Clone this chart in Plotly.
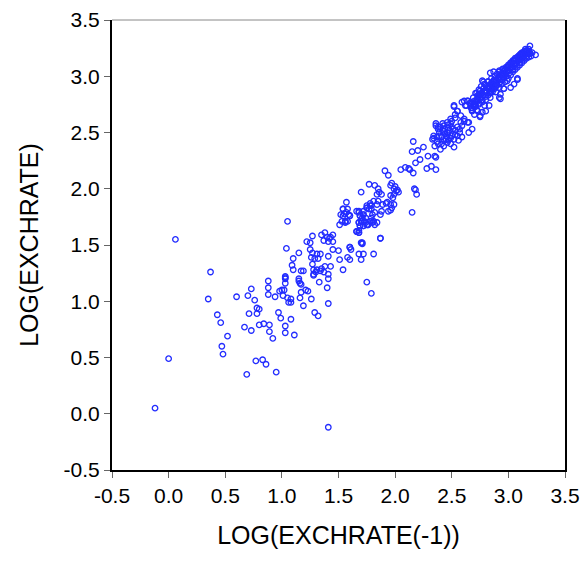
import plotly.graph_objects as go

# LOG(EXCHRATE(-1)) values (x) and LOG(EXCHRATE) values (y)
lag_sparse = [-0.12, 0.00, 0.06, 0.35, 0.37, 0.43, 0.46, 0.47, 0.48, 0.52, 0.60, 0.67, 0.69, 0.70, 0.71,
              0.73, 0.73, 0.76, 0.77, 0.78, 0.80, 0.78, 0.80, 0.83, 0.84, 0.86, 0.88, 0.88, 0.88, 0.89,
              0.89, 0.92, 0.94, 0.95, 0.97, 0.98, 0.99, 1.00, 1.01, 1.02, 1.03, 1.03, 1.03, 1.03, 1.03,
              1.03, 1.04, 1.05, 1.05, 1.06, 1.08, 1.08, 1.08, 1.09, 1.10, 1.10, 1.11, 1.15, 1.15, 1.15,
              1.16, 1.16, 1.17, 1.17, 1.17, 1.19, 1.19, 1.21, 1.22, 1.23, 1.25, 1.25, 1.26, 1.26, 1.27,
              1.27, 1.27, 1.28, 1.28, 1.28, 1.29, 1.29, 1.30, 1.31, 1.31, 1.32, 1.32, 1.33, 1.34, 1.34,
              1.35, 1.35, 1.37, 1.37, 1.38, 1.38, 1.40, 1.40, 1.41, 1.41, 1.41, 1.41, 1.41, 1.41, 1.42,
              1.43, 1.43, 1.45, 1.45, 1.45, 1.50, 1.51]
cur_sparse = [0.05, 0.49, 1.55, 1.02, 1.26, 0.88, 0.81, 0.60, 0.53, 0.69, 1.04, 0.77, 0.35, 1.05, 0.89,
              1.11, 0.74, 1.01, 0.47, 0.94, 0.93, 0.89, 0.79, 0.48, 0.80, 0.44, 1.18, 1.12, 1.06, 0.79,
              0.73, 0.67, 1.04, 0.37, 0.90, 1.09, 0.85, 1.10, 1.05, 1.10, 1.22, 1.20, 1.16, 0.78, 0.72,
              1.21, 1.47, 1.71, 1.03, 0.99, 1.02, 0.99, 0.84, 1.32, 1.38, 1.28, 0.70, 1.43, 1.20, 1.18,
              1.16, 1.03, 1.27, 1.15, 1.08, 1.27, 0.96, 1.10, 1.53, 1.09, 1.52, 1.46, 1.02, 1.39, 1.58,
              1.43, 1.33, 1.28, 1.23, 1.24, 1.38, 0.90, 1.26, 1.42, 1.28, 1.38, 0.87, 1.17, 1.42, 1.27,
              1.29, 1.59, 1.26, 1.54, 1.61, 1.31, 1.57, 1.12, 1.53, 1.40, 1.24, 1.20, 0.98, -0.12, 1.56,
              1.57, 1.31, 1.53, 1.59, 1.46, 1.45, 1.37]

lag_mid = [1.52, 1.51, 1.53, 1.54, 1.54, 1.55, 1.56, 1.56, 1.57, 1.58, 1.58, 1.58, 1.59, 1.60, 1.60,
           1.60, 1.61, 1.66, 1.66, 1.68, 1.68, 1.68, 1.68, 1.68, 1.69, 1.69, 1.70, 1.70, 1.70, 1.70,
           1.71, 1.71, 1.72, 1.72, 1.72, 1.72, 1.73, 1.74, 1.75, 1.75, 1.75, 1.75, 1.76, 1.77, 1.77,
           1.78, 1.78, 1.78, 1.79, 1.79, 1.79, 1.79, 1.80, 1.80, 1.81, 1.81, 1.81, 1.82, 1.82, 1.82,
           1.84, 1.84, 1.84, 1.85, 1.85, 1.86, 1.87, 1.87, 1.88, 1.88, 1.89, 1.91, 1.92, 1.93, 1.94,
           1.94, 1.96, 1.96, 1.96, 1.96, 1.97, 1.97, 1.98, 1.99, 1.99, 1.99, 2.00, 2.02, 2.03, 2.01,
           1.54, 1.57, 1.60, 1.56, 1.54, 1.68, 1.69, 1.71, 1.72, 1.74, 1.69, 1.75, 1.78, 1.81, 1.76,
           1.72, 1.68, 1.66, 1.68, 1.87, 1.71, 1.60]
cur_mid = [1.77, 1.68, 1.71, 1.28, 1.82, 1.78, 1.70, 1.71, 1.88, 1.82, 1.39, 1.71, 1.77, 1.37, 1.76,
           1.48, 1.46, 1.62, 1.80, 1.61, 1.63, 1.79, 1.42, 1.70, 1.67, 1.76, 1.37, 1.97, 1.71, 1.52,
           1.51, 1.74, 1.80, 1.42, 1.77, 1.67, 1.71, 1.70, 1.17, 1.85, 1.68, 1.83, 1.68, 1.82, 2.04,
           1.85, 1.87, 1.71, 1.74, 1.85, 1.07, 1.82, 1.77, 1.70, 1.71, 1.89, 1.42, 2.03, 1.79, 1.68,
           1.95, 1.86, 1.70, 2.00, 1.89, 1.97, 1.56, 1.77, 1.95, 1.80, 1.86, 2.16, 1.87, 1.88, 1.80,
           2.12, 1.86, 1.81, 2.03, 1.94, 2.05, 1.83, 1.92, 1.86, 1.95, 2.00, 2.02, 1.99, 1.97, 1.98,
           1.82, 1.79, 1.76, 1.71, 1.76, 1.80, 1.76, 1.71, 1.77, 1.74, 1.67, 1.83, 1.71, 1.71, 1.68,
           1.67, 1.70, 1.62, 1.61, 1.56, 1.52, 1.48]

lag_upper = [2.05, 2.09, 2.12, 2.13, 2.15, 2.15, 2.16, 2.16, 2.17, 2.18, 2.18, 2.19, 2.20, 2.22, 2.25,
             2.28, 2.29, 2.32, 2.33, 2.34, 2.36, 2.36, 2.34, 2.36, 2.38, 2.39, 2.40, 2.42, 2.46, 2.47,
             2.49, 2.50, 2.47, 2.49, 2.52, 2.43, 2.38, 2.35, 2.40, 2.35, 2.46, 2.52, 2.55, 2.57, 2.59,
             2.56, 2.59, 2.58, 2.53, 2.55, 2.52, 2.64, 2.65, 2.68, 2.61, 2.62, 2.59, 2.64, 2.67, 2.68,
             2.70, 2.73, 2.75, 2.71, 2.73, 2.74, 2.75, 2.79, 2.77, 2.81, 2.84, 2.83, 2.79, 2.80, 2.86,
             2.87, 2.90, 2.93, 2.96, 2.99, 2.93, 2.89, 3.02, 3.05, 3.08, 2.61, 2.64, 2.63, 2.52, 2.55,
             2.53, 2.58, 2.61, 2.65, 2.49, 2.46, 2.43, 2.36, 2.38, 2.41, 2.44, 2.45, 2.48, 2.51, 2.53,
             2.43, 2.50, 2.37, 2.44, 2.37, 2.39, 2.41, 2.43, 2.45, 2.47, 2.49, 2.51, 2.53, 2.55, 2.57,
             2.42, 2.46, 2.50]
cur_upper = [2.17, 2.19, 2.18, 2.17, 1.79, 2.33, 2.42, 2.14, 2.00, 2.23, 1.99, 1.95, 2.34, 2.26, 2.37,
             2.18, 2.29, 2.20, 2.44, 2.45, 2.17, 2.28, 2.47, 2.56, 2.53, 2.50, 2.55, 2.52, 2.50, 2.57,
             2.58, 2.55, 2.43, 2.40, 2.37, 2.38, 2.40, 2.38, 2.35, 2.29, 2.46, 2.44, 2.47, 2.53, 2.46,
             2.43, 2.56, 2.59, 2.63, 2.69, 2.73, 2.59, 2.50, 2.53, 2.62, 2.74, 2.77, 2.78, 2.72, 2.69,
             2.66, 2.69, 2.64, 2.74, 2.80, 2.84, 2.87, 2.93, 2.96, 2.86, 2.81, 2.74, 2.74, 2.69, 2.90,
             2.96, 2.92, 2.95, 2.89, 2.96, 2.84, 2.86, 2.90, 2.93, 2.97, 2.78, 2.78, 2.74, 2.74, 2.69,
             2.66, 2.65, 2.60, 2.59, 2.62, 2.59, 2.56, 2.58, 2.55, 2.46, 2.49, 2.44, 2.52, 2.49, 2.52,
             2.43, 2.47, 2.46, 2.53, 2.42, 2.47, 2.40, 2.51, 2.47, 2.54, 2.45, 2.53, 2.48, 2.55, 2.50,
             2.58, 2.41, 2.60]

lag_top = [2.66, 2.68, 2.69, 2.70, 2.71, 2.72, 2.72, 2.73, 2.74, 2.74, 2.75, 2.76, 2.76, 2.77, 2.78,
           2.78, 2.79, 2.80, 2.80, 2.81, 2.82, 2.82, 2.83, 2.84, 2.84, 2.85, 2.86, 2.86, 2.87, 2.88,
           2.88, 2.89, 2.90, 2.90, 2.91, 2.92, 2.92, 2.93, 2.94, 2.94, 2.95, 2.96, 2.96, 2.97, 2.98,
           2.98, 2.99, 3.00, 3.00, 3.01, 3.02, 3.02, 3.03, 3.04, 3.04, 3.05, 3.06, 3.06, 3.07, 3.08,
           3.08, 3.09, 3.10, 3.10, 3.11, 3.12, 3.12, 3.13, 3.14, 3.14, 3.15, 3.16, 3.16, 3.17, 3.18,
           3.18, 3.19, 3.20, 3.21, 3.15, 3.13, 3.11, 3.09, 3.07, 3.05, 3.03, 3.01, 2.99, 2.97, 2.95,
           2.93, 2.91, 2.89, 2.87, 2.85, 2.83, 2.81, 2.79, 2.77, 2.75, 2.73, 2.71, 2.69, 3.19, 3.24,
           3.08, 2.84, 2.87, 2.92, 2.95, 2.78, 2.82, 2.72, 2.96, 2.92, 2.93, 2.84, 2.75, 2.77]
cur_top = [2.76, 2.72, 2.81, 2.75, 2.85, 2.79, 2.70, 2.83, 2.88, 2.75, 2.81, 2.91, 2.85, 2.77, 2.89,
           2.83, 2.93, 2.86, 2.79, 2.90, 2.95, 2.83, 2.89, 2.93, 2.85, 2.98, 2.91, 2.86, 2.95, 3.00,
           2.89, 2.96, 2.93, 3.02, 2.98, 2.90, 3.04, 2.97, 3.01, 2.93, 3.06, 2.99, 3.03, 2.95, 3.08,
           3.02, 3.05, 2.98, 3.10, 3.06, 3.01, 3.12, 3.08, 3.04, 3.14, 3.10, 3.06, 3.16, 3.12, 3.08,
           3.17, 3.14, 3.10, 3.19, 3.15, 3.12, 3.21, 3.17, 3.14, 3.22, 3.19, 3.16, 3.23, 3.20, 3.17,
           3.22, 3.20, 3.18, 3.21, 3.24, 3.21, 3.20, 3.18, 3.16, 3.14, 3.12, 3.10, 3.08, 3.06, 3.03,
           3.01, 2.99, 2.97, 2.96, 2.93, 2.91, 2.87, 2.86, 2.83, 2.84, 2.79, 2.77, 2.75, 3.27, 3.19,
           2.98, 3.03, 3.04, 3.05, 3.065, 2.95, 2.955, 2.85, 2.89, 2.81, 2.80, 2.86, 2.65, 2.68]

lag_core = [2.67, 2.70, 2.73, 2.76, 2.79, 2.82, 2.85, 2.88, 2.91, 2.94, 2.97, 3.00, 3.03, 3.06, 3.09,
            3.12, 3.15, 3.18, 2.68, 2.71, 2.74, 2.77, 2.80, 2.83, 2.86, 2.89, 2.92, 2.95, 2.98, 3.01,
            3.04, 3.07, 3.10, 3.13, 3.16, 3.19, 2.69, 2.72, 2.75, 2.78, 2.81, 2.84, 2.87, 2.90, 2.93,
            2.96, 2.99, 3.02, 3.05, 3.08, 3.11, 3.14, 3.17]
cur_core = [2.76, 2.78, 2.82, 2.84, 2.87, 2.90, 2.93, 2.96, 2.99, 3.02, 3.05, 3.08, 3.11, 3.14, 3.16,
            3.19, 3.22, 3.24, 2.70, 2.73, 2.76, 2.79, 2.82, 2.85, 2.88, 2.91, 2.94, 2.97, 3.00, 3.03,
            3.06, 3.09, 3.12, 3.15, 3.18, 3.21, 2.74, 2.77, 2.80, 2.83, 2.86, 2.89, 2.92, 2.95, 2.98,
            3.01, 3.04, 3.07, 3.10, 3.13, 3.16, 3.19, 3.22]

x_vals = lag_sparse + lag_mid + lag_upper + lag_top + lag_core
y_vals = cur_sparse + cur_mid + cur_upper + cur_top + cur_core

tick_vals = [-0.5, 0.0, 0.5, 1.0, 1.5, 2.0, 2.5, 3.0, 3.5]
tick_text = ["-0.5", "0.0", "0.5", "1.0", "1.5", "2.0", "2.5", "3.0", "3.5"]

fig = go.Figure(go.Scatter(
    x=x_vals, y=y_vals, mode="markers",
    marker=dict(symbol="circle-open", size=5.5, color="rgb(35,45,255)",
                line=dict(width=1.3, color="rgb(35,45,255)")),
    showlegend=False, hoverinfo="x+y",
))

font_family = "Liberation Sans, Arial, sans-serif"
axis_common = dict(
    range=[-0.5, 3.5], tickvals=tick_vals, ticktext=tick_text,
    showgrid=False, zeroline=False, showline=True, linecolor="black", linewidth=2,
    ticks="outside", ticklen=6, tickwidth=1, tickcolor="#666666",
    tickfont=dict(family=font_family, size=21, color="black"),
)
fig.update_xaxes(**axis_common, mirror=False,
                 title=dict(text="LOG(EXCHRATE(-1))", standoff=20,
                            font=dict(family=font_family, size=25, color="black")))
fig.update_yaxes(**axis_common, mirror=True,
                 title=dict(text="LOG(EXCHRATE)", standoff=18,
                            font=dict(family=font_family, size=25, color="black")))

fig.add_shape(type="line", xref="paper", yref="paper", x0=0, x1=1, y0=1, y1=1,
              line=dict(color="#888888", width=1))

fig.update_layout(
    width=584, height=561,
    margin=dict(l=112, r=19, t=20, b=91, autoexpand=False),
    plot_bgcolor="white", paper_bgcolor="white",
)

fig.write_html("out.html")
